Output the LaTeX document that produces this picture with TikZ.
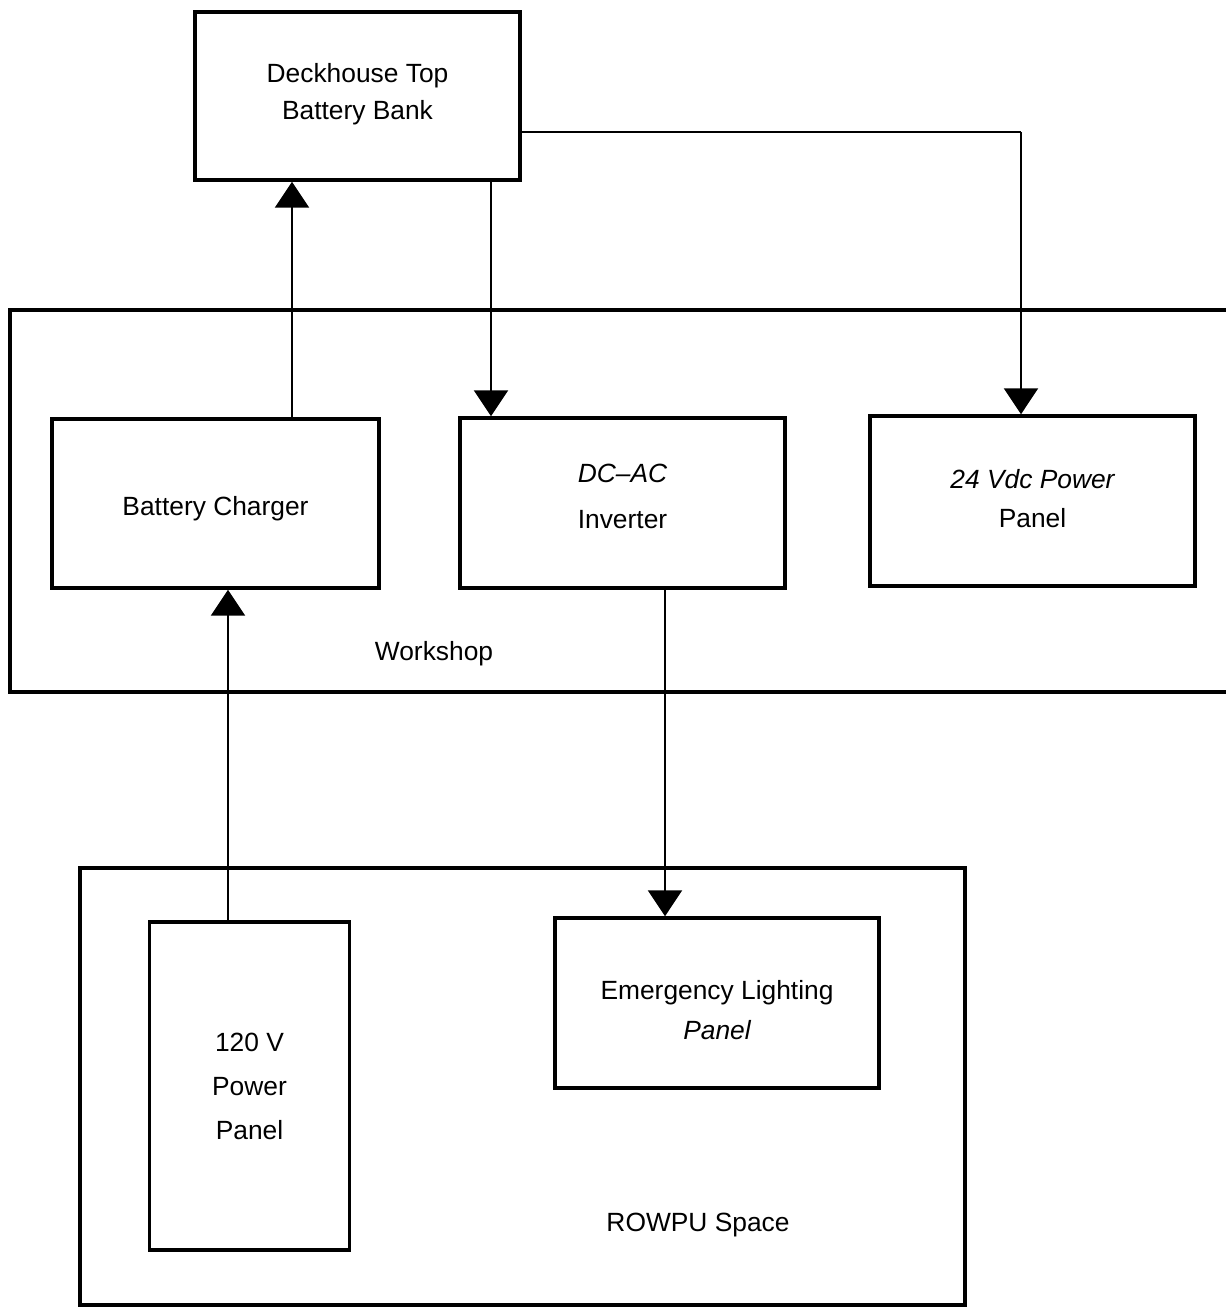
\documentclass[tikz,border=0pt]{standalone}
\usepackage{fontspec}
\setmainfont{Liberation Sans}
\usetikzlibrary{arrows.meta}
\tikzset{
  box/.style={draw, line width=2pt, rectangle, inner sep=0pt, align=center,
    font=\fontsize{15}{21}\selectfont},
  region/.style={draw, line width=2pt},
  conn/.style={line width=1.3pt, -{Triangle[length=0.52cm,width=0.68cm]}},
  plain/.style={line width=1.3pt},
  lbl/.style={font=\fontsize{15}{21}\selectfont, inner sep=0pt}
}
\begin{document}
\begin{tikzpicture}[x=0.02cm,y=-0.02cm]
\useasboundingbox (0,0) rectangle (1225,1307);
% regions
\draw[region] (1240,310) -- (10,310) -- (10,692) -- (1240,692);
\node[region, rectangle, inner sep=0pt, minimum width=17.7cm, minimum height=8.74cm] (rowpu) at (522.5,1086.5) {};
\node[lbl] (workshoplbl) at (434,654) {Workshop};
\node[lbl] (rowpulbl) at (698,1225) {ROWPU Space};
% boxes
\node[box, minimum width=6.5cm, minimum height=3.36cm] (deck) at (357.5,96)
  {Deckhouse Top\\[0pt]Battery Bank\\[-16pt]};
\node[box, minimum width=6.54cm, minimum height=3.38cm] (charger) at (215.5,503.5)
  {Battery Charger\\[-24pt]};
\node[box, minimum width=6.5cm, minimum height=3.4cm] (inverter) at (622.5,503)
  {\itshape DC--AC\\[5pt]Inverter\\[-13pt]};
\node[box, minimum width=6.5cm, minimum height=3.4cm] (v24) at (1032.5,501)
  {\itshape 24 Vdc Power\\[1pt]Panel\\[-18pt]};
\node[box, minimum width=4.0cm, minimum height=6.56cm] (p120) at (249.5,1086)
  {120 V\\[4pt]Power\\[4pt]Panel};
\node[box, minimum width=6.48cm, minimum height=3.4cm] (emerg) at (717,1003)
  {Emergency Lighting\\[2pt]{\itshape Panel}\\[-29pt]};
% connectors
\draw[conn] (292,0 |- charger.north) -- (292,0 |- deck.south);
\draw[conn] (491,0 |- deck.south) -- (491,0 |- inverter.north);
\coordinate (bend) at (1021,132);
\draw[plain] (deck.east |- bend) -- (bend);
\draw[conn] (bend) -- (bend |- v24.north);
\draw[conn] (228,0 |- p120.north) -- (228,0 |- charger.south);
\draw[conn] (665,0 |- inverter.south) -- (665,0 |- emerg.north);
\end{tikzpicture}
\end{document}
